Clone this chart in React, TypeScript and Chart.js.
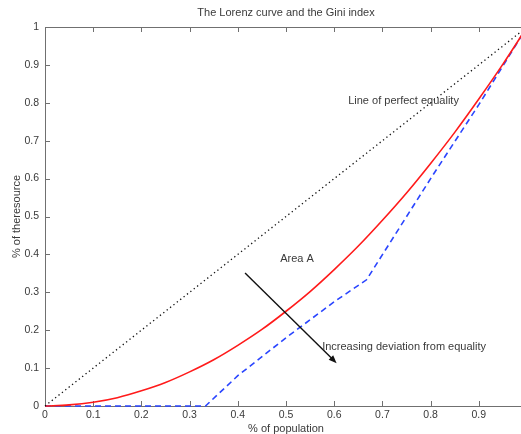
import { useEffect, useRef } from 'react';
import { Chart, registerables } from 'chart.js';

Chart.register(...registerables);

// ---- data ----
const titleText = 'The Lorenz curve and the Gini index';
const xTitle = '% of population';
const yTitle = '% of theresource';

const xTicks = [0, 0.1, 0.2, 0.3, 0.4, 0.5, 0.6, 0.7, 0.8, 0.9];
const xTickLabels = ['0', '0.1', '0.2', '0.3', '0.4', '0.5', '0.6', '0.7', '0.8', '0.9'];
const yTicks = [0, 0.1, 0.2, 0.3, 0.4, 0.5, 0.6, 0.7, 0.8, 0.9, 1];
const yTickLabels = ['0', '0.1', '0.2', '0.3', '0.4', '0.5', '0.6', '0.7', '0.8', '0.9', '1'];

const equalityX = [0, 1];
const equalityY = [0, 1];

const lorenzX = [0, 0.05, 0.1, 0.15, 0.2, 0.25, 0.3, 0.35, 0.4, 0.45, 0.5, 0.55, 0.6, 0.65, 0.7, 0.75, 0.8, 0.85, 0.9, 0.95, 1];
const lorenzY = [0, 0.003, 0.01, 0.022, 0.04, 0.062, 0.09, 0.122, 0.16, 0.202, 0.25, 0.302, 0.36, 0.422, 0.49, 0.562, 0.64, 0.722, 0.81, 0.902, 1];

const deviationX = [0, 0.333, 0.4, 0.5, 0.6, 0.667, 0.8, 0.9, 1];
const deviationY = [0, 0, 0.08, 0.18, 0.275, 0.333, 0.6, 0.795, 1];

const arrowFrom = [0.415, 0.351];
const arrowTo = [0.605, 0.113];

const annotationTexts = ['Line of perfect equality', 'Area A', 'Increasing deviation from equality'];
const annotationX = [0.629, 0.488, 0.575];
const annotationY = [0.805, 0.389, 0.155];

const X_MIN = 0;
const X_MAX = 0.9875;
const Y_MIN = 0;
const Y_MAX = 1;

const FONT = '"Liberation Sans", Arial, Helvetica, sans-serif';
const TEXT_COLOR = '#3a3a3a';
const AXIS_COLOR = '#707070';

const toPts = (xs: number[], ys: number[]) => xs.map((x, i) => ({ x, y: ys[i] }));

const framePlugin = {
  id: 'matlabFrame',
  beforeDatasetsDraw(chart: any) {
    const { ctx, chartArea } = chart;
    const xs = chart.scales.x;
    const ys = chart.scales.y;
    const { left, right, top, bottom } = chartArea;
    ctx.save();
    ctx.strokeStyle = AXIS_COLOR;
    ctx.lineWidth = 1;
    ctx.beginPath();
    ctx.moveTo(left + 0.5, top + 0.5);
    ctx.lineTo(right + 1, top + 0.5);
    ctx.moveTo(left + 0.5, top + 0.5);
    ctx.lineTo(left + 0.5, bottom + 0.5);
    ctx.lineTo(right + 1, bottom + 0.5);
    const tl = 5;
    xTicks.forEach((v) => {
      const px = Math.round(xs.getPixelForValue(v)) + 0.5;
      ctx.moveTo(px, bottom);
      ctx.lineTo(px, bottom - tl);
      ctx.moveTo(px, top);
      ctx.lineTo(px, top + tl);
    });
    yTicks.forEach((v) => {
      const py = Math.round(ys.getPixelForValue(v)) + 0.5;
      ctx.moveTo(left, py);
      ctx.lineTo(left + tl, py);
    });
    ctx.stroke();
    ctx.restore();
  },
  afterDatasetsDraw(chart: any) {
    const { ctx } = chart;
    const xs = chart.scales.x;
    const ys = chart.scales.y;
    ctx.save();
    // arrow
    const x0 = xs.getPixelForValue(arrowFrom[0]);
    const y0 = ys.getPixelForValue(arrowFrom[1]);
    const x1 = xs.getPixelForValue(arrowTo[0]);
    const y1 = ys.getPixelForValue(arrowTo[1]);
    const ang = Math.atan2(y1 - y0, x1 - x0);
    const hl = 8;
    const hw = 3.2;
    ctx.strokeStyle = '#111';
    ctx.fillStyle = '#111';
    ctx.lineWidth = 1.4;
    ctx.beginPath();
    ctx.moveTo(x0, y0);
    ctx.lineTo(x1 - Math.cos(ang) * hl * 0.6, y1 - Math.sin(ang) * hl * 0.6);
    ctx.stroke();
    ctx.beginPath();
    ctx.moveTo(x1, y1);
    ctx.lineTo(x1 - Math.cos(ang) * hl - Math.sin(ang) * hw, y1 - Math.sin(ang) * hl + Math.cos(ang) * hw);
    ctx.lineTo(x1 - Math.cos(ang) * hl + Math.sin(ang) * hw, y1 - Math.sin(ang) * hl - Math.cos(ang) * hw);
    ctx.closePath();
    ctx.fill();
    // annotations
    ctx.font = `11px ${FONT}`;
    ctx.fillStyle = TEXT_COLOR;
    ctx.textAlign = 'left';
    ctx.textBaseline = 'middle';
    annotationTexts.forEach((t, i) => {
      ctx.fillText(t, xs.getPixelForValue(annotationX[i]), ys.getPixelForValue(annotationY[i]));
    });
    // title and x-axis title centred on the full axes (0..1)
    const cx = xs.getPixelForValue(0.5);
    ctx.textAlign = 'center';
    ctx.fillText(titleText, cx, 13);
    ctx.fillText(xTitle, cx, 428.5);
    ctx.restore();
  },
};

export default function App() {
  const canvasRef = useRef<HTMLCanvasElement | null>(null);

  useEffect(() => {
    if (!canvasRef.current) return;
    const chart = new Chart(canvasRef.current, {
      type: 'line',
      data: {
        datasets: [
          {
            data: toPts(equalityX, equalityY),
            borderColor: '#111',
            borderWidth: 1.3,
            borderDash: [1.3, 3],
            pointRadius: 0,
            fill: false,
            clip: 3,
          },
          {
            data: toPts(lorenzX, lorenzY),
            borderColor: '#ff1a1a',
            borderWidth: 1.6,
            pointRadius: 0,
            fill: false,
            cubicInterpolationMode: 'monotone',
            clip: 3,
          },
          {
            data: toPts(deviationX, deviationY),
            borderColor: '#2a45ff',
            borderWidth: 1.6,
            borderDash: [6, 4],
            pointRadius: 0,
            fill: false,
            tension: 0,
            clip: 3,
          },
        ] as any,
      },
      options: {
        animation: false,
        responsive: false,
        maintainAspectRatio: false,
        layout: { padding: { top: 27, left: 0, right: 0, bottom: 0 } },
        plugins: {
          legend: { display: false },
          tooltip: { enabled: false },
          title: { display: false },
        },
        scales: {
          x: {
            type: 'linear',
            min: X_MIN,
            max: X_MAX,
            grid: { display: false, drawTicks: false },
            border: { display: false },
            afterBuildTicks: (s: any) => {
              s.ticks = xTicks.map((v) => ({ value: v }));
            },
            afterFit: (s: any) => {
              s.height = 28;
            },
            ticks: {
              padding: 3,
              color: TEXT_COLOR,
              font: { family: FONT, size: 10.5 },
              maxRotation: 0,
              autoSkip: false,
              callback: (_v: any, i: number) => xTickLabels[i],
            },
          },
          y: {
            type: 'linear',
            min: Y_MIN,
            max: Y_MAX,
            grid: { display: false, drawTicks: false },
            border: { display: false },
            afterBuildTicks: (s: any) => {
              s.ticks = yTicks.map((v) => ({ value: v }));
            },
            afterFit: (s: any) => {
              s.width = 45;
            },
            title: {
              display: true,
              text: yTitle,
              color: TEXT_COLOR,
              font: { family: FONT, size: 11 },
              padding: { top: 10, bottom: 0 },
            },
            ticks: {
              padding: 6,
              color: TEXT_COLOR,
              font: { family: FONT, size: 10.5 },
              autoSkip: false,
              callback: (_v: any, i: number) => yTickLabels[i],
            },
          },
        },
      },
      plugins: [framePlugin],
    });
    return () => chart.destroy();
  }, []);

  return (
    <div style={{ position: 'absolute', left: 0, top: 0, width: 521, height: 434, background: '#fff' }}>
      <canvas ref={canvasRef} width={521} height={434} style={{ display: 'block', width: 521, height: 434 }} />
    </div>
  );
}
